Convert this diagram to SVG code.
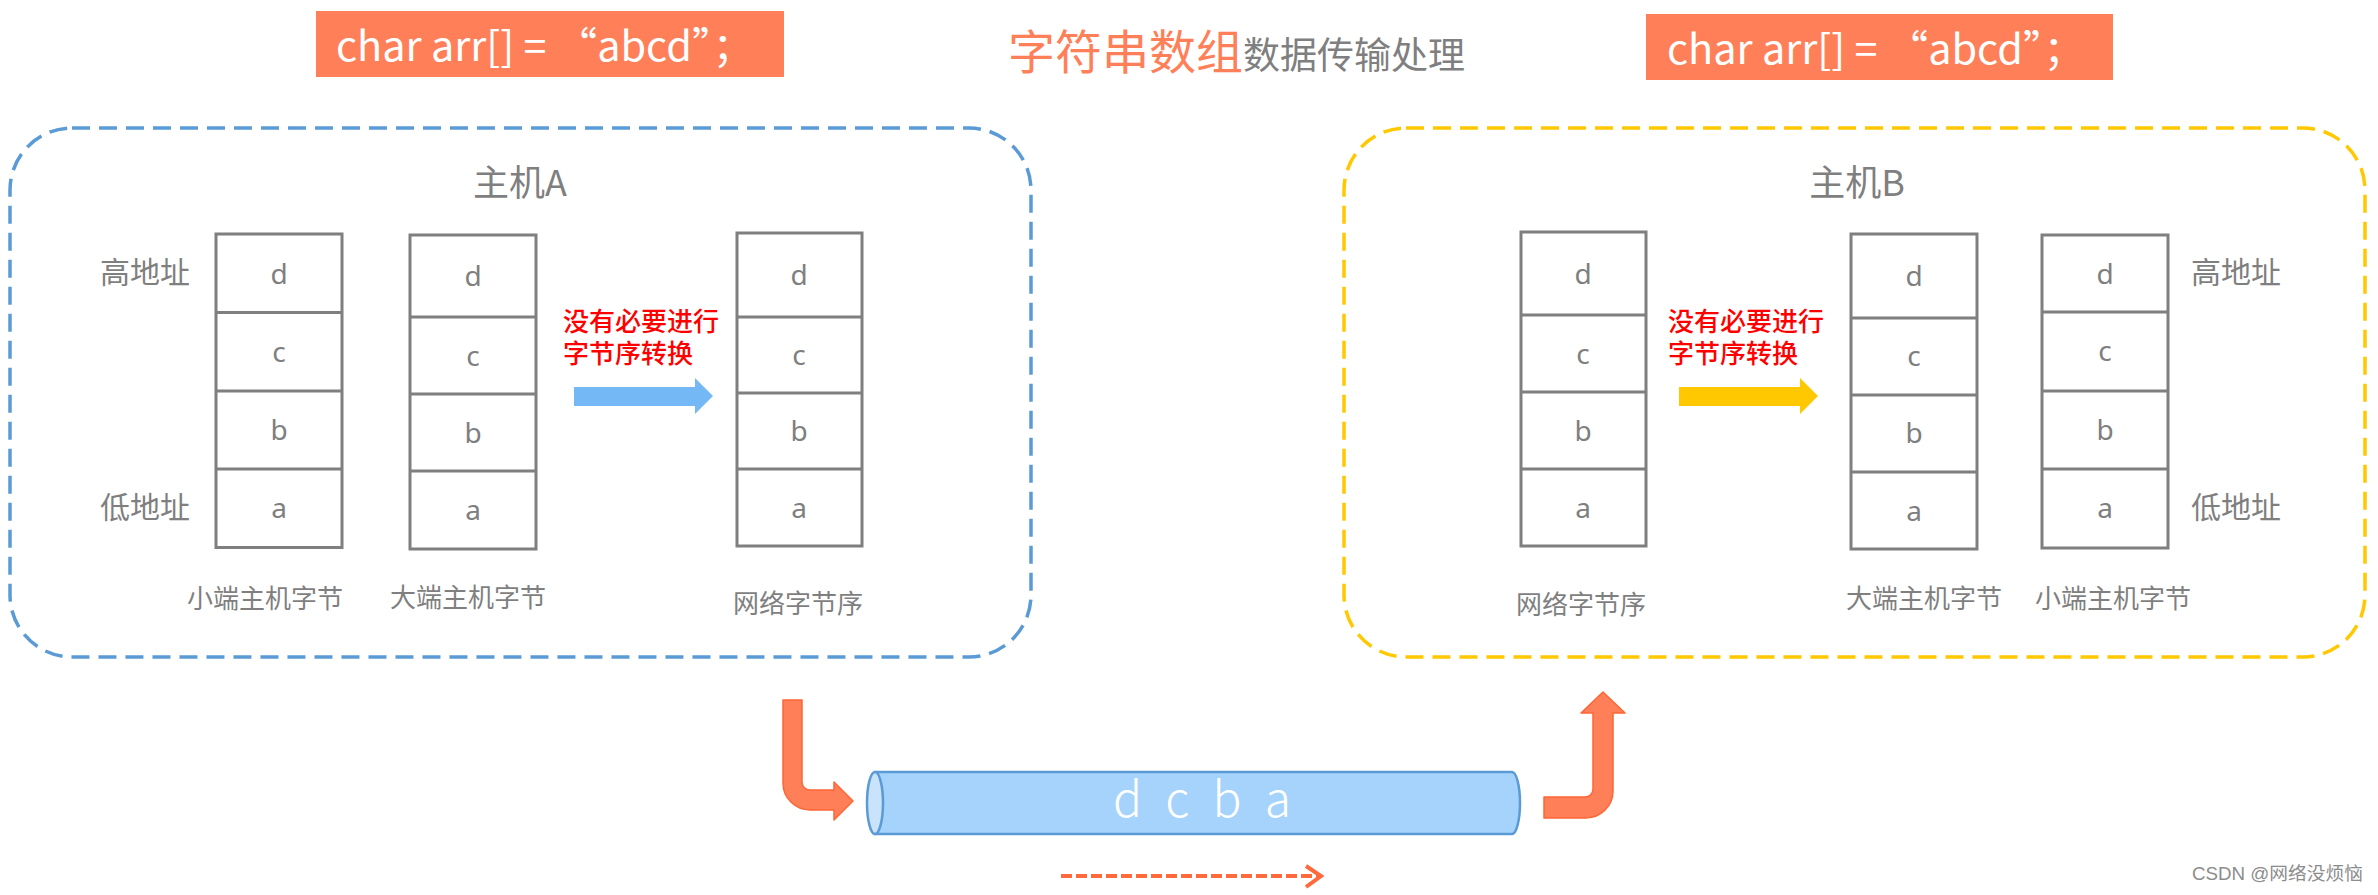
<svg xmlns="http://www.w3.org/2000/svg" width="2378" height="895" viewBox="0 0 2378 895">
<style>
.cjk{font-family:"Noto Sans CJK SC","Noto Sans",sans-serif}
.gray{fill:#7f7f7f}
.cell{fill:#fff;stroke:#7f7f7f;stroke-width:3}
.sep{stroke:#7f7f7f;stroke-width:3}
.ch{font-family:"Noto Sans","Noto Sans CJK SC",sans-serif;font-size:28px;fill:#7f7f7f;text-anchor:middle}
.lbl{font-size:26px;fill:#7f7f7f}
.addr{font-size:30px;fill:#7f7f7f}
.red{font-size:26px;fill:#ff0000;font-weight:500}
.hdr{fill:#ff7f59}
.hdrt{font-size:40px;fill:#fff}
.host{font-size:36px;fill:#7f7f7f;text-anchor:middle}
.bent{fill:#ff7f59;stroke:#ff6633;stroke-width:1.5;stroke-linejoin:round}
</style>

<g id="title">
  <text class="cjk" x="1008" y="69" font-size="47" fill="#ff7f59">字符串数组<tspan font-size="37" fill="#7f7f7f">数据传输处理</tspan></text>
</g>

<g id="code-left">
  <rect class="hdr" x="316" y="11" width="468" height="66"/>
  <text class="cjk hdrt" x="336" y="61" textLength="418" lengthAdjust="spacingAndGlyphs">char arr[] = “abcd”；</text>
</g>
<g id="code-right">
  <rect class="hdr" x="1646" y="14" width="467" height="66"/>
  <text class="cjk hdrt" x="1667" y="64" textLength="418" lengthAdjust="spacingAndGlyphs">char arr[] = “abcd”；</text>
</g>

<g id="hostA">
  <rect x="10" y="128" width="1021" height="529" rx="62" fill="none" stroke="#5b9bd5" stroke-width="3.5" stroke-dasharray="18 9"/>
  <text class="cjk host" x="520" y="196">主机A</text>
  <text class="cjk addr" x="100" y="283">高地址</text>
  <text class="cjk addr" x="100" y="518">低地址</text>
</g>

<g id="hostA-little">
  <rect class="cell" x="216" y="234" width="126" height="313.5"/>
  <line class="sep" x1="216" y1="312.5" x2="342" y2="312.5"/>
  <line class="sep" x1="216" y1="391" x2="342" y2="391"/>
  <line class="sep" x1="216" y1="469" x2="342" y2="469"/>
  <text class="ch" x="279" y="284">d</text>
  <text class="ch" x="279" y="362">c</text>
  <text class="ch" x="279" y="440">b</text>
  <text class="ch" x="279" y="518">a</text>
  <text class="cjk lbl" x="187" y="608">小端主机字节</text>
</g>

<g id="hostA-big">
  <rect class="cell" x="410" y="235" width="126" height="314"/>
  <line class="sep" x1="410" y1="317" x2="536" y2="317"/>
  <line class="sep" x1="410" y1="394" x2="536" y2="394"/>
  <line class="sep" x1="410" y1="471" x2="536" y2="471"/>
  <text class="ch" x="473" y="286">d</text>
  <text class="ch" x="473" y="366">c</text>
  <text class="ch" x="473" y="443">b</text>
  <text class="ch" x="473" y="520">a</text>
  <text class="cjk lbl" x="390" y="607">大端主机字节</text>
</g>

<g id="hostA-net">
  <rect class="cell" x="737" y="233" width="125" height="313"/>
  <line class="sep" x1="737" y1="317" x2="862" y2="317"/>
  <line class="sep" x1="737" y1="393" x2="862" y2="393"/>
  <line class="sep" x1="737" y1="469" x2="862" y2="469"/>
  <text class="ch" x="799" y="285">d</text>
  <text class="ch" x="799" y="365">c</text>
  <text class="ch" x="799" y="441">b</text>
  <text class="ch" x="799" y="518">a</text>
  <text class="cjk lbl" x="733" y="613">网络字节序</text>
</g>

<g id="noteA">
  <text class="cjk red" x="563" y="331">没有必要进行</text>
  <text class="cjk red" x="563" y="363">字节序转换</text>
</g>

<g id="hostB">
  <rect x="1344" y="128" width="1021" height="529" rx="62" fill="none" stroke="#ffc800" stroke-width="3.5" stroke-dasharray="18 9"/>
  <text class="cjk host" x="1857" y="196">主机B</text>
  <text class="cjk addr" x="2191" y="283">高地址</text>
  <text class="cjk addr" x="2191" y="518">低地址</text>
</g>

<g id="hostB-net">
  <rect class="cell" x="1521" y="232" width="125" height="314"/>
  <line class="sep" x1="1521" y1="315" x2="1646" y2="315"/>
  <line class="sep" x1="1521" y1="392" x2="1646" y2="392"/>
  <line class="sep" x1="1521" y1="469" x2="1646" y2="469"/>
  <text class="ch" x="1583" y="284">d</text>
  <text class="ch" x="1583" y="364">c</text>
  <text class="ch" x="1583" y="441">b</text>
  <text class="ch" x="1583" y="518">a</text>
  <text class="cjk lbl" x="1516" y="614">网络字节序</text>
</g>

<g id="hostB-big">
  <rect class="cell" x="1851" y="234" width="126" height="315"/>
  <line class="sep" x1="1851" y1="318" x2="1977" y2="318"/>
  <line class="sep" x1="1851" y1="395" x2="1977" y2="395"/>
  <line class="sep" x1="1851" y1="472" x2="1977" y2="472"/>
  <text class="ch" x="1914" y="286">d</text>
  <text class="ch" x="1914" y="366">c</text>
  <text class="ch" x="1914" y="443">b</text>
  <text class="ch" x="1914" y="521">a</text>
  <text class="cjk lbl" x="1846" y="608">大端主机字节</text>
</g>

<g id="hostB-little">
  <rect class="cell" x="2042" y="235" width="126" height="313"/>
  <line class="sep" x1="2042" y1="312" x2="2168" y2="312"/>
  <line class="sep" x1="2042" y1="391" x2="2168" y2="391"/>
  <line class="sep" x1="2042" y1="469" x2="2168" y2="469"/>
  <text class="ch" x="2105" y="284">d</text>
  <text class="ch" x="2105" y="361">c</text>
  <text class="ch" x="2105" y="440">b</text>
  <text class="ch" x="2105" y="518">a</text>
  <text class="cjk lbl" x="2035" y="608">小端主机字节</text>
</g>

<g id="noteB">
  <text class="cjk red" x="1668" y="331">没有必要进行</text>
  <text class="cjk red" x="1668" y="363">字节序转换</text>
</g>

<g id="pipe">
  <path d="M875,772 L1512,772 A8,31 0 0 1 1512,834 L875,834 Z" fill="#a6d3fb" stroke="#5b9bd5" stroke-width="2.5"/>
  <ellipse cx="875" cy="803" rx="8" ry="31" fill="#c9e3fa" stroke="#5b9bd5" stroke-width="2.5"/>
  <text class="cjk" x="1113" y="817" font-size="48" font-weight="300" fill="#fff" textLength="178" lengthAdjust="spacing">d c b a</text>
</g>

<g id="connectors">
  <polygon points="574,387 695,387 695,378 713,396 695,414 695,406 574,406" fill="#74b9f5"/>
  <polygon points="1679,387 1800,387 1800,378 1818,396 1800,414 1800,406 1679,406" fill="#ffc800"/>
  <path class="bent" d="M783,700 L802,700 L802,782 A8,8 0 0 0 810,790 L834,790 L834,782 L853,801 L834,820 L834,810 L810,810 A27,27 0 0 1 783,783 Z"/>
  <path class="bent" d="M1544,797 L1585,797 A8,8 0 0 0 1593,789 L1593,713 L1581,713 L1603,692 L1625,713 L1613,713 L1613,791 A27,27 0 0 1 1586,818 L1544,818 Z"/>
  <line x1="1061" y1="876" x2="1318" y2="876" stroke="#ff6a3d" stroke-width="4" stroke-dasharray="11 4"/>
  <polyline points="1306,866 1321,876 1306,887" fill="none" stroke="#ff6a3d" stroke-width="4"/>
</g>

<text x="2192" y="880" font-family="Liberation Sans,Noto Sans CJK SC,sans-serif" font-size="18" fill="#8c8c8c" textLength="171" lengthAdjust="spacingAndGlyphs">CSDN @网络没烦恼</text>
</svg>
